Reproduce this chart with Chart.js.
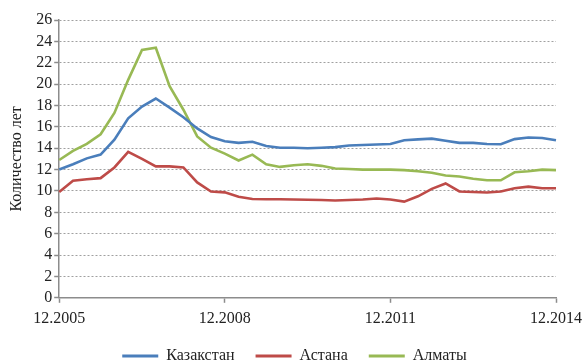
<!DOCTYPE html>
<html>
<head>
<meta charset="utf-8">
<script src="https://cdn.jsdelivr.net/npm/chart.js@4/dist/chart.umd.min.js"></script>
<style>
  html, body { margin: 0; padding: 0; background: #fff; }
  #wrap { width: 588px; height: 362px; position: relative; }
</style>
</head>
<body>
<div id="wrap"><canvas id="c" width="588" height="362"></canvas></div>
<script>
// Quarterly periods, 12.2005 – 12.2014
const periods = [
  '12.2005','03.2006','06.2006','09.2006','12.2006','03.2007','06.2007','09.2007','12.2007',
  '03.2008','06.2008','09.2008','12.2008','03.2009','06.2009','09.2009','12.2009',
  '03.2010','06.2010','09.2010','12.2010','03.2011','06.2011','09.2011','12.2011',
  '03.2012','06.2012','09.2012','12.2012','03.2013','06.2013','09.2013','12.2013',
  '03.2014','06.2014','09.2014','12.2014'
];

// Labelled periods on the horizontal axis
const tickLabels = ['12.2005', '12.2008', '12.2011', '12.2014'];

// Years needed (количество лет)
const kazakhstan = [12.0,12.5,13.05,13.4,14.8,16.8,17.9,18.65,17.8,16.9,15.85,15.05,14.65,14.5,14.6,14.2,14.05,
  14.05,14.0,14.05,14.1,14.25,14.3,14.35,14.4,14.75,14.83,14.9,14.7,14.5,14.5,14.4,14.37,14.85,15.0,14.95,14.75];
const astana = [9.9,10.95,11.1,11.2,12.2,13.65,13.0,12.3,12.3,12.2,10.8,9.95,9.87,9.45,9.25,9.23,9.23,
  9.2,9.17,9.15,9.1,9.15,9.2,9.3,9.2,9.0,9.5,10.2,10.7,9.95,9.9,9.85,9.95,10.25,10.4,10.25,10.25];
const almaty = [12.9,13.75,14.4,15.3,17.3,20.4,23.2,23.4,19.8,17.6,15.1,14.05,13.5,12.85,13.4,12.5,12.25,
  12.4,12.5,12.35,12.1,12.05,12.0,12.0,12.0,11.95,11.85,11.7,11.45,11.35,11.15,11.0,11.0,11.75,11.85,12.0,11.95];

const FONT = "'Liberation Serif', 'Times New Roman', serif";
const AXIS = '#8c8c8c';

function series(label, data, color) {
  return {
    label, data,
    borderColor: color,
    backgroundColor: color,
    borderWidth: 2.6,
    pointRadius: 0,
    tension: 0,
    fill: false
  };
}

new Chart(document.getElementById('c'), {
  type: 'line',
  data: {
    labels: periods,
    datasets: [
      series('Казакстан', kazakhstan, '#4a7ebb'),
      series('Астана', astana, '#be4b48'),
      series('Алматы', almaty, '#98b954')
    ]
  },
  options: {
    responsive: false,
    animation: false,
    layout: { padding: { top: 20, right: 6, left: 7, bottom: -12 } },
    plugins: {
      tooltip: { enabled: false },
      legend: {
        position: 'bottom',
        labels: {
          font: { family: FONT, size: 16 },
          color: '#222',
          boxWidth: 36,
          boxHeight: 3,
          padding: 21,
          generateLabels(chart) {
            return chart.data.datasets.map((ds, i) => ({
              text: ds.label,
              fillStyle: ds.borderColor,
              strokeStyle: ds.borderColor,
              lineWidth: 0,
              fontColor: '#222',
              datasetIndex: i,
              hidden: false
            }));
          }
        }
      }
    },
    scales: {
      x: {
        type: 'category',
        offset: false,
        afterBuildTicks(scale) {
          scale.ticks = scale.ticks.filter(t => tickLabels.includes(periods[t.value]));
        },
        afterFit(scale) {
          // tighten the gap between the date labels and the legend
          scale.height -= 7;
        },
        ticks: {
          autoSkip: false,
          maxRotation: 0,
          minRotation: 0,
          padding: 6,
          color: '#222',
          font: { family: FONT, size: 16 },
          callback: (v) => periods[v]
        },
        grid: {
          drawOnChartArea: false,
          drawTicks: true,
          tickLength: 5,
          tickColor: AXIS,
          tickWidth: 1.5
        },
        border: { color: AXIS, width: 1.5 }
      },
      y: {
        min: 0,
        max: 26,
        ticks: {
          stepSize: 2,
          autoSkip: false,
          padding: 2,
          color: '#222',
          font: { family: FONT, size: 16 }
        },
        grid: {
          color: '#a0a0a0',
          lineWidth: 1,
          drawTicks: true,
          tickLength: 5,
          tickColor: AXIS,
          tickWidth: 1.5
        },
        border: { color: AXIS, width: 1.5, dash: [2, 2] },
        title: {
          display: true,
          text: 'Количество лет',
          color: '#222',
          font: { family: FONT, size: 16 },
          padding: { top: 0, bottom: 8 }
        }
      }
    }
  }
});
</script>
</body>
</html>
